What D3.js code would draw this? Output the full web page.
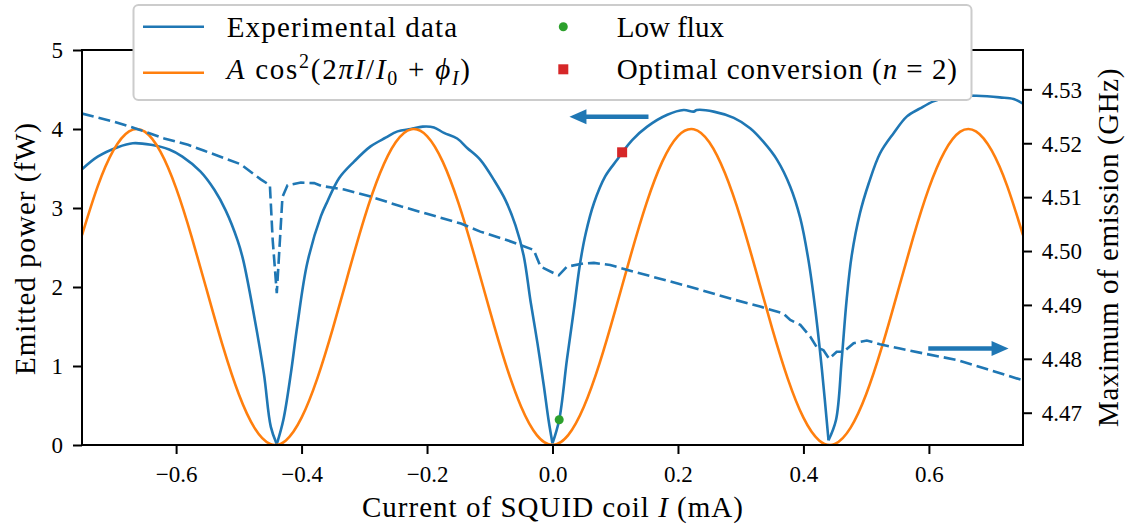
<!DOCTYPE html>
<html><head><meta charset="utf-8">
<script src="https://cdn.jsdelivr.net/npm/d3@7"></script>
<style>
body{margin:0;background:#fff;}
svg text{font-family:"Liberation Serif","Times New Roman",serif;fill:#000;}
</style></head><body>
<svg id="chart" width="1128" height="527"></svg>
<script>
// ---------- data ----------
const expCurrent = [-0.750,-0.725,-0.693,-0.669,-0.640,-0.611,-0.590,-0.561,-0.539,-0.521,-0.502,-0.493,-0.476,-0.460,-0.449,-0.4395,-0.429,-0.417,-0.407,-0.391,-0.369,-0.359,-0.340,-0.316,-0.290,-0.266,-0.247,-0.226,-0.207,-0.189,-0.173,-0.152,-0.136,-0.115,-0.093,-0.075,-0.059,-0.046,-0.035,-0.024,-0.014,-0.006,0.000,0.0107,0.023,0.034,0.044,0.053,0.066,0.084,0.103,0.111,0.127,0.151,0.183,0.209,0.225,0.230,0.257,0.289,0.315,0.336,0.358,0.379,0.395,0.408,0.419,0.4295,0.440,0.452,0.461,0.469,0.477,0.490,0.504,0.522,0.544,0.565,0.586,0.607,0.623,0.650,0.676,0.713,0.735,0.750];
const expPower   = [3.49,3.65,3.77,3.82,3.80,3.74,3.65,3.46,3.23,2.97,2.59,2.34,1.65,0.90,0.23,0.01,0.32,0.91,1.50,2.30,2.90,3.08,3.38,3.59,3.78,3.89,3.97,4.00,4.03,4.02,3.95,3.88,3.76,3.61,3.35,3.10,2.78,2.40,1.82,1.29,0.76,0.30,0.02,0.32,1.08,1.71,2.30,2.68,3.06,3.40,3.61,3.70,3.86,4.03,4.18,4.24,4.22,4.24,4.22,4.14,4.01,3.84,3.61,3.27,2.87,2.34,1.71,0.95,0.06,0.32,1.08,1.85,2.40,2.93,3.31,3.69,3.95,4.16,4.26,4.35,4.39,4.42,4.42,4.40,4.38,4.32];

const fitCurrent = [-0.750,-0.725,-0.700,-0.675,-0.650,-0.625,-0.600,-0.575,-0.550,-0.525,-0.500,-0.475,-0.450,-0.425,-0.400,-0.375,-0.350,-0.325,-0.300,-0.275,-0.250,-0.225,-0.200,-0.175,-0.150,-0.125,-0.100,-0.075,-0.050,-0.025,0.000,0.025,0.050,0.075,0.100,0.125,0.150,0.175,0.200,0.225,0.250,0.275,0.300,0.325,0.350,0.375,0.400,0.425,0.450,0.475,0.500,0.525,0.550,0.575,0.600,0.625,0.650,0.675,0.700,0.725,0.750];
const fitPower   = [2.656,3.273,3.728,3.970,3.966,3.714,3.252,2.629,1.929,1.238,0.642,0.216,0.013,0.058,0.346,0.841,1.480,2.184,2.869,3.439,3.832,3.997,3.911,3.587,3.065,2.410,1.703,1.033,0.484,0.125,0.000,0.125,0.484,1.033,1.703,2.410,3.065,3.587,3.911,3.997,3.832,3.439,2.869,2.184,1.480,0.841,0.346,0.058,0.013,0.216,0.642,1.238,1.929,2.629,3.252,3.714,3.966,3.970,3.728,3.273,2.656];

const freqCurrent = [-0.750,-0.699,-0.661,-0.619,-0.581,-0.555,-0.518,-0.497,-0.465,-0.4505,-0.446,-0.4395,-0.4345,-0.4305,-0.4225,-0.401,-0.380,-0.369,-0.332,-0.290,-0.242,-0.200,-0.146,-0.115,-0.072,-0.030,-0.019,0.002,0.010,0.023,0.050,0.066,0.092,0.135,0.183,0.236,0.289,0.331,0.368,0.379,0.395,0.411,0.421,0.432,0.441,0.453,0.464,0.480,0.501,0.522,0.554,0.596,0.644,0.692,0.750];
const freqGHz     = [4.5255,4.5240,4.5226,4.5209,4.5197,4.5186,4.5170,4.5161,4.5133,4.5122,4.5020,4.4922,4.5020,4.5100,4.5122,4.5127,4.5126,4.5121,4.5114,4.5101,4.5083,4.5069,4.5051,4.5036,4.5020,4.5002,4.4971,4.4959,4.4955,4.4971,4.4977,4.4978,4.4974,4.4960,4.4945,4.4928,4.4910,4.4897,4.4884,4.4872,4.4863,4.4841,4.4822,4.4816,4.4800,4.4813,4.4813,4.4829,4.4834,4.4827,4.4819,4.4809,4.4798,4.4781,4.4760];

const lowFlux = [0.0107, 0.32];
const optimalPoint = [0.111, 3.705];

const xTicks = [-0.6,-0.4,-0.2,0.0,0.2,0.4,0.6];
const yLeftTicks = [0,1,2,3,4,5];
const yRightTicks = [4.47,4.48,4.49,4.50,4.51,4.52,4.53];

const xLabel = "Current of SQUID coil ";
const yLeftLabel = "Emitted power (fW)";
const yRightLabel = "Maximum of emission (GHz)";

// annotation arrows (data units): [x0, x1, y]
const arrowLeft  = [0.153, 0.027, 4.156];
const arrowRight = [0.599, 0.727, 4.4819];

// ---------- layout ----------
const FONT='"Liberation Serif","Times New Roman",serif';
const BLUE="#1f77b4", ORANGE="#ff7f0e", GREEN="#2ca02c", RED="#d62728";
const LW=2.6;
const m={l:82,r:1023,t:50,b:445};
const svg=d3.select("#chart");
const x=d3.scaleLinear().domain([-0.75,0.75]).range([m.l,m.r]);
const yL=d3.scaleLinear().domain([0,5]).range([m.b,m.t]);
const yR=d3.scaleLinear().domain([4.46401,4.5373]).range([m.b,m.t]);

svg.append("defs").append("clipPath").attr("id","clip")
  .append("rect").attr("x",m.l).attr("y",m.t).attr("width",m.r-m.l).attr("height",m.b-m.t);

const plot=svg.append("g").attr("clip-path","url(#clip)");

const expData = expCurrent.map((c,i)=>[c,expPower[i]]);
const fitData = fitCurrent.map((c,i)=>[c,fitPower[i]]);
const freqData = freqCurrent.map((c,i)=>[c,freqGHz[i]]);

// split experimental trace at its sharp minima so the V tips stay sharp
const segs=[]; let cur=[];
expData.forEach((d,i)=>{
  cur.push(d);
  const isTip = i>0 && i<expData.length-1 && d[1]<expData[i-1][1] && d[1]<expData[i+1][1] && d[1]<0.1;
  if(isTip){ segs.push(cur); cur=[d]; }
});
segs.push(cur);
const expLine=d3.line().x(d=>x(d[0])).y(d=>yL(d[1])).curve(d3.curveCatmullRom.alpha(0.5));
plot.selectAll("path.exp").data(segs).enter().append("path").attr("class","exp")
  .attr("d",expLine)
  .attr("fill","none").attr("stroke",BLUE).attr("stroke-width",LW).attr("stroke-linejoin","round");
plot.append("path").datum(fitData)
  .attr("d",d3.line().x(d=>x(d[0])).y(d=>yL(d[1])).curve(d3.curveNatural))
  .attr("fill","none").attr("stroke",ORANGE).attr("stroke-width",LW);

svg.append("circle").attr("cx",x(lowFlux[0])).attr("cy",yL(lowFlux[1])).attr("r",4.5).attr("fill",GREEN);
svg.append("rect").attr("x",x(optimalPoint[0])-5).attr("y",yL(optimalPoint[1])-5).attr("width",10).attr("height",10).attr("fill",RED);

plot.append("path").datum(freqData)
  .attr("d",d3.line().x(d=>x(d[0])).y(d=>yR(d[1])))
  .attr("fill","none").attr("stroke",BLUE).attr("stroke-width",LW).attr("stroke-dasharray","12,5");

// arrows
function arrow(x0,x1,yy){
  const dir = Math.sign(x1-x0), headL=17, hw=7.5;
  const g=svg.append("g");
  g.append("line").attr("x1",x0).attr("x2",x1-dir*headL+dir*1).attr("y1",yy).attr("y2",yy)
    .attr("stroke",BLUE).attr("stroke-width",4.5);
  g.append("path").attr("d",`M${x1},${yy} L${x1-dir*headL},${yy-hw} L${x1-dir*headL},${yy+hw} Z`).attr("fill",BLUE);
}
arrow(x(arrowLeft[0]),x(arrowLeft[1]),yL(arrowLeft[2]));
arrow(x(arrowRight[0]),x(arrowRight[1]),yR(arrowRight[2]));

// axes
const TS=23;
const gx=svg.append("g").attr("transform",`translate(0,${m.b})`)
  .call(d3.axisBottom(x).tickValues(xTicks).tickSize(9).tickSizeOuter(0).tickFormat(d3.format(".1f")));
gx.selectAll("text").attr("y",36.7).attr("dy",null);
const gl=svg.append("g").attr("transform",`translate(${m.l},0)`)
  .call(d3.axisLeft(yL).tickValues(yLeftTicks).tickSize(9).tickSizeOuter(0).tickFormat(d3.format("d")));
gl.selectAll("text").attr("x",-19).attr("dy","0.34em");
const gr=svg.append("g").attr("transform",`translate(${m.r},0)`)
  .call(d3.axisRight(yR).tickValues(yRightTicks).tickSize(9).tickSizeOuter(0).tickFormat(d3.format(".2f")));
gr.selectAll("text").attr("x",18.7).attr("dy","0.34em");
[gx,gl,gr].forEach(g=>{
  g.attr("font-family",FONT);
  g.select(".domain").remove();
  g.selectAll(".tick line").attr("stroke","#000").attr("stroke-width",2);
  g.selectAll("text").attr("font-size",TS).attr("fill","#000").style("font-family",FONT);
});
svg.append("rect").attr("x",m.l).attr("y",m.t).attr("width",m.r-m.l).attr("height",m.b-m.t)
  .attr("fill","none").attr("stroke","#000").attr("stroke-width",2);

function fitWidth(sel,target){
  const node=sel.node();
  const n=node.textContent.length;
  const w=node.getComputedTextLength();
  sel.style("letter-spacing",((target-w)/n)+"px");
}

const LS=29;
// axis labels
const xl=svg.append("text").attr("x",553).attr("y",517.3).attr("text-anchor","middle").attr("font-size",LS)
  .style("white-space","pre");
xl.append("tspan").text(xLabel);
xl.append("tspan").attr("font-style","italic").text("I");
xl.append("tspan").text(" (mA)");
fitWidth(xl,382);

const yl=svg.append("text").attr("transform","translate(35,248.5) rotate(-90)").attr("text-anchor","middle")
  .attr("font-size",LS).text(yLeftLabel);
fitWidth(yl,253);
const yr=svg.append("text").attr("transform","translate(1118,247.5) rotate(-90)").attr("text-anchor","middle")
  .attr("font-size",LS).text(yRightLabel);
fitWidth(yr,359);

// legend
const lg=svg.append("g");
lg.append("rect").attr("x",133.5).attr("y",5).attr("width",838).attr("height",95).attr("rx",5)
  .attr("fill","#fff").attr("stroke","#cccccc").attr("stroke-width",2);
lg.append("line").attr("x1",143).attr("x2",204).attr("y1",26.7).attr("y2",26.7).attr("stroke",BLUE).attr("stroke-width",LW);
lg.append("line").attr("x1",143).attr("x2",204).attr("y1",72.7).attr("y2",72.7).attr("stroke",ORANGE).attr("stroke-width",LW);
lg.append("circle").attr("cx",563.3).attr("cy",26.7).attr("r",4.5).attr("fill",GREEN);
lg.append("rect").attr("x",558.3).attr("y",64.3).attr("width",10).attr("height",10).attr("fill",RED);

const t1=lg.append("text").attr("x",226.7).attr("y",37.3).attr("font-size",LS).text("Experimental data");
fitWidth(t1,231.6);
const t3=lg.append("text").attr("x",616.7).attr("y",37.3).attr("font-size",LS).text("Low flux");
fitWidth(t3,107.3);
const t4=lg.append("text").attr("x",616.7).attr("y",79.3).attr("font-size",LS).style("white-space","pre");
t4.append("tspan").text("Optimal conversion (");
t4.append("tspan").attr("font-style","italic").text("n");
t4.append("tspan").text(" = 2)");
fitWidth(t4,341.3);

const t2=lg.append("text").attr("x",226.7).attr("y",79.3).attr("font-size",LS).style("white-space","pre");
const SS=20;
t2.append("tspan").attr("font-style","italic").text("A");
t2.append("tspan").text(" cos");
t2.append("tspan").attr("font-size",SS).attr("dy",-11).text("2");
t2.append("tspan").attr("dy",11).text("(2");
t2.append("tspan").attr("font-style","italic").text("πI");
t2.append("tspan").text("/");
t2.append("tspan").attr("font-style","italic").text("I");
t2.append("tspan").attr("font-size",SS).attr("dy",6).text("0");
t2.append("tspan").attr("dy",-6).text(" + ");
t2.append("tspan").attr("font-style","italic").text("ϕ");
t2.append("tspan").attr("font-size",SS).attr("font-style","italic").attr("dy",6).text("I");
t2.append("tspan").attr("dy",-6).text(")");
fitWidth(t2,245);
</script>
</body></html>
